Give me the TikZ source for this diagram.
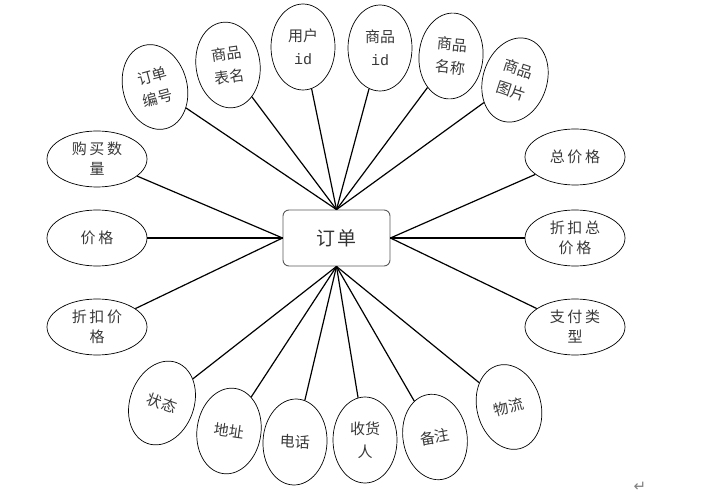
\documentclass[tikz,border=0pt]{standalone}
\usepackage{fontspec}
\newfontfamily\cjk{Noto Sans CJK SC}
\newfontfamily\cjkw[LetterSpace=18]{Noto Sans CJK SC}
\newfontfamily\cjkc[LetterSpace=15]{Noto Sans CJK SC}
\newfontfamily\mono{Liberation Mono}
\newfontfamily\dv{DejaVu Sans}
\usetikzlibrary{shapes.geometric}
\begin{document}
\begin{tikzpicture}[x=1pt,y=1pt,
  attr/.style={ellipse, draw, line width=0.7pt, inner sep=0pt, align=center, text=black!78},
  tall/.style={attr, minimum width=64pt, minimum height=86pt, font=\cjk\fontsize{15}{23}\selectfont},
  wide/.style={attr, minimum width=100pt, minimum height=56pt, font=\cjkw\fontsize{15}{20}\selectfont},
  entity/.style={draw=black!65, line width=0.9pt, rounded corners=6pt, minimum width=107pt, minimum height=56pt, font=\cjkc\fontsize{19}{22}\selectfont, text=black!80},
  link/.style={line width=1.2pt}]
\useasboundingbox (0,0) rectangle (726,-497);
\node[entity] (order) at (336.5,-238) {订单};
% left
\node[wide] (buy) at (97,-159) {购买数\\量};
\node[wide] (price) at (97,-238) {价格};
\node[wide] (dprice) at (97,-327) {折扣价\\格};
% right
\node[wide] (total) at (575,-157) {总价格};
\node[wide] (dtotal) at (575,-238) {折扣总\\价格};
\node[wide] (pay) at (575,-327) {支付类\\型};
% top
\node[tall, rotate=15] (oid) at (155,-87) {订单\\编号};
\node[tall, rotate=8] (tname) at (228,-65) {商品\\表名};
\node[tall] (uid) at (303,-47) {用户\\{\mono id}};
\node[tall] (pid) at (380,-48) {商品\\{\mono id}};
\node[tall, rotate=-5] (pname) at (451,-56) {商品\\名称};
\node[tall, rotate=-18] (pimg) at (515,-80) {商品\\图片};
% bottom
\node[tall, rotate=-20] (state) at (162,-403) {状态};
\node[tall, rotate=-8] (addr) at (229,-431) {地址};
\node[tall, rotate=-3] (tel) at (295,-442) {电话};
\node[tall] (recv) at (365,-440) {收货\\人};
\node[tall, rotate=10] (note) at (435,-437) {备注};
\node[tall, rotate=15] (logi) at (509,-407) {物流};
% connectors
\foreach \n in {oid,tname,uid,pid,pname,pimg} \draw[link] (order.north) -- (\n);
\foreach \n in {state,addr,tel,recv,note,logi} \draw[link] (order.south) -- (\n);
\foreach \n in {buy,price,dprice} \draw[link] (order.west) -- (\n);
\foreach \n in {total,dtotal,pay} \draw[link] (order.east) -- (\n);
\node[font=\dv\fontsize{15}{17}\selectfont, text=black!50] (ret) at (640,-487) {↵};
\end{tikzpicture}
\end{document}
